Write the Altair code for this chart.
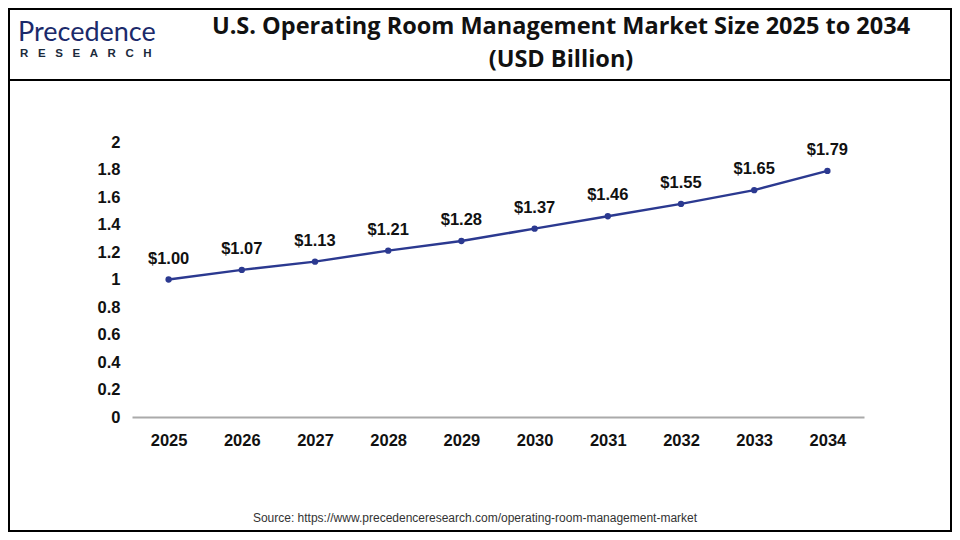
import altair as alt
import pandas as pd

years = ["2025", "2026", "2027", "2028", "2029", "2030", "2031", "2032", "2033", "2034"]
values = [1.00, 1.07, 1.13, 1.21, 1.28, 1.37, 1.46, 1.55, 1.65, 1.79]
labels = ["$1.00", "$1.07", "$1.13", "$1.21", "$1.28", "$1.37", "$1.46", "$1.55", "$1.65", "$1.79"]
y_ticks = [0, 0.2, 0.4, 0.6, 0.8, 1, 1.2, 1.4, 1.6, 1.8, 2]

df = pd.DataFrame({"year": years, "value": values, "label": labels})

W, H = 732, 275
PL, PT = 124, 134
TOTAL_W, TOTAL_H = 944, 524

LINE = "#2B3990"
NB = "\u00a0"

x = alt.X("year:O", scale=alt.Scale(type="point", padding=0.5), axis=alt.Axis(
    title=None, labelAngle=0, labelFont="Liberation Sans", labelFontSize=16.5, labelFontWeight="bold",
    labelColor="#111111", domainColor="#AAAAAA", domainWidth=2, ticks=False, labelPadding=15))
y = alt.Y("value:Q", scale=alt.Scale(domain=[0, 2]), axis=alt.Axis(
    title=None, values=y_ticks, format="~g", labelFont="Liberation Sans", labelFontSize=16.5, labelFontWeight="bold",
    labelColor="#111111", domain=False, ticks=False, grid=False, labelPadding=12))

base = alt.Chart(df)
line = base.mark_line(color=LINE, strokeWidth=2.5).encode(x=x, y=y)
pts = base.mark_circle(color=LINE, size=40, opacity=1).encode(x=x, y=y)
txt = base.mark_text(dy=-21, font="Liberation Sans", fontSize=16.5, fontWeight="bold", color="#111111").encode(
    x=x, y=y, text="label:N")

# decorations
frame = alt.Chart(pd.DataFrame({"a": [0]})).mark_rect(fill=None, stroke="#000000", strokeWidth=2).encode(
    x=alt.value(-PL + 1), x2=alt.value(TOTAL_W - PL - 1), y=alt.value(-PT + 1), y2=alt.value(TOTAL_H - PT - 1))
header = alt.Chart(pd.DataFrame({"a": [0]})).mark_rule(color="#000000", strokeWidth=2).encode(
    x=alt.value(-PL), x2=alt.value(TOTAL_W - PL), y=alt.value(80 - 8 - PT))

title1 = alt.Chart(pd.DataFrame({"t": ["U.S. Operating Room Management Market Size 2025 to 2034"]})).mark_text(
    font="Open Sans", fontSize=23.5, fontWeight="bold", color="#111111", align="center", baseline="middle").encode(
    text="t:N", x=alt.value(561 - 8 - PL), y=alt.value(27 - 8 - PT))
title2 = alt.Chart(pd.DataFrame({"t": ["(USD Billion)"]})).mark_text(
    font="Open Sans", fontSize=23.5, fontWeight="bold", color="#111111", align="center", baseline="middle").encode(
    text="t:N", x=alt.value(561 - 8 - PL), y=alt.value(60 - 8 - PT))

logo1 = alt.Chart(pd.DataFrame({"t": ["Precedence"]})).mark_text(
    font="Lato", fontSize=27, fontWeight="normal", color="#1B2A6B", align="left", baseline="middle").encode(
    text="t:N", x=alt.value(18 - 8 - PL), y=alt.value(33 - 8 - PT))
logo2 = alt.Chart(pd.DataFrame({"t": [(NB * 3).join("RESEARCH")]})).mark_text(
    font="Liberation Sans", fontSize=11.5, fontWeight="bold", color="#1B2A3B", align="left", baseline="middle").encode(
    text="t:N", x=alt.value(20 - 8 - PL), y=alt.value(54 - 8 - PT))

source = alt.Chart(pd.DataFrame({"t": ["Source: https://www.precedenceresearch.com/operating-room-management-market"]})).mark_text(
    font="Liberation Sans", fontSize=12, color="#333333", align="center", baseline="middle").encode(
    text="t:N", x=alt.value(475 - 8 - PL), y=alt.value(518 - 8 - PT))

chart = alt.layer(frame, header, line, pts, txt, title1, title2, logo1, logo2, source).properties(
    width=W, height=H,
    background="#FFFFFF",
    autosize=alt.AutoSizeParams(type="none"),
    padding={"left": PL, "top": PT, "right": TOTAL_W - PL - W, "bottom": TOTAL_H - PT - H},
).configure_view(stroke=None, strokeWidth=0)

chart.save("out.html", embed_options={"renderer": "svg", "actions": False})
